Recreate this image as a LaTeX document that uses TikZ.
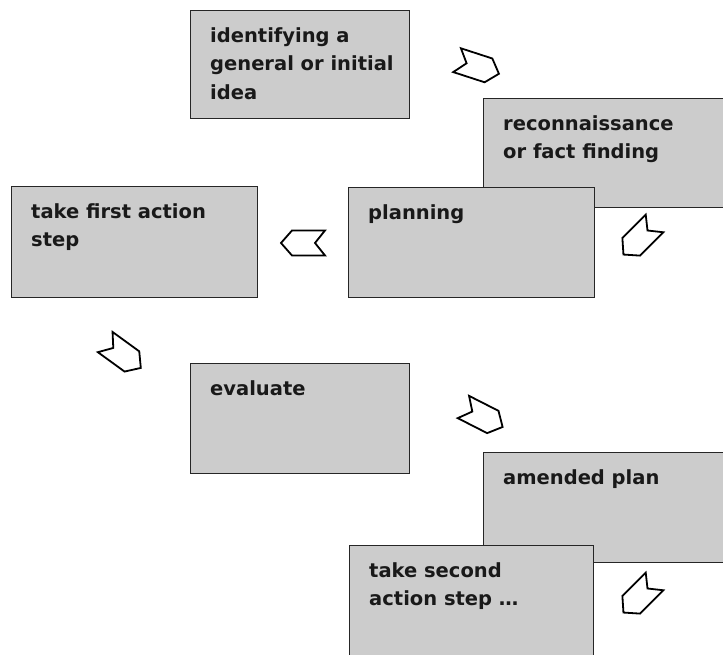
\documentclass[tikz,border=0pt]{standalone}
\usepackage{fontspec}
\setmainfont{DejaVu Sans}
\begin{document}
\begin{tikzpicture}[x=1pt,y=1pt,
  box/.style={draw=black!85, line width=1.4pt, fill=black!20, inner sep=0pt, anchor=north west},
  txt/.style={anchor=north west, inner sep=0pt, align=left, font=\fontsize{19.5}{28.5}\selectfont\bfseries, text=black!90},
  chev/.pic={\draw[line width=1.8pt, fill=white, line join=miter]
     (-22,12.5) -- (11,12.5) -- (22,0) -- (11,-12.5) -- (-22,-12.5) -- (-12,0) -- cycle;}
]
\useasboundingbox (0,0) rectangle (723,655);
\fill[white] (0,0) rectangle (723,655);
% boxes
\node[box, minimum width=219pt, minimum height=108pt] (a) at (190,645) {};
\node[txt] (at) at ([shift={(20,-17)}]a.north west) {identifying a\\general or initial\\idea};
\node[box, minimum width=245pt, minimum height=109pt] (b) at (483,557) {};
\node[txt] (bt) at ([shift={(20,-17)}]b.north west) {reconnaissance\\or fact finding};
\node[box, minimum width=246pt, minimum height=110pt] (c) at (348,468) {};
\node[txt] (ct) at ([shift={(20,-17)}]c.north west) {planning};
\node[box, minimum width=246pt, minimum height=111pt] (d) at (11,469) {};
\node[txt] (dt) at ([shift={(20,-17)}]d.north west) {take first action\\step};
\node[box, minimum width=219pt, minimum height=110pt] (e) at (190,292) {};
\node[txt] (et) at ([shift={(20,-17)}]e.north west) {evaluate};
\node[box, minimum width=245pt, minimum height=110pt] (f) at (483,203) {};
\node[txt] (ft) at ([shift={(20,-17)}]f.north west) {amended plan};
\node[box, minimum width=244pt, minimum height=116pt] (g) at (349,110) {};
\node[txt] (gt) at ([shift={(20,-17)}]g.north west) {take second\\action step \dots};
% arrows
\pic[rotate=-18] (ar1) at (478,588) {chev};
\pic[rotate=225] (ar2) at (639,416) {chev};
\pic[rotate=180] (ar3) at (303,412) {chev};
\pic[rotate=-36] (ar4) at (123,300) {chev};
\pic[rotate=-27] (ar5) at (483,238) {chev};
\pic[rotate=225] (ar6) at (639,58) {chev};
\end{tikzpicture}
\end{document}
